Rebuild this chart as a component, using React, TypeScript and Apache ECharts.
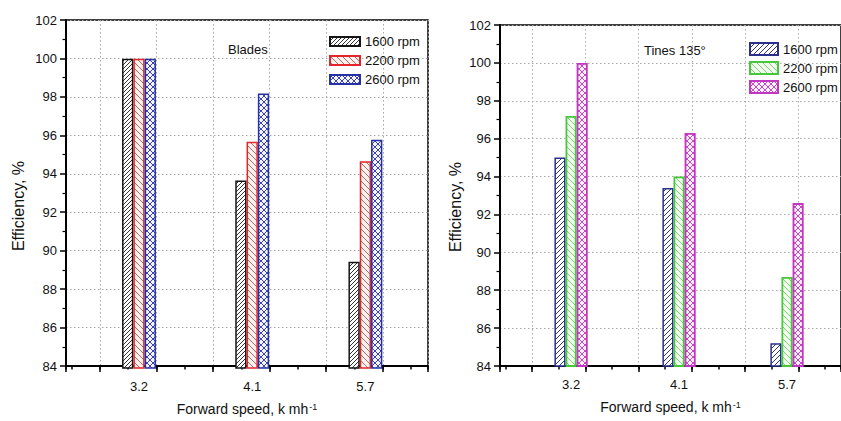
import React, { useEffect, useRef } from 'react';
import * as echarts from 'echarts';

// ---- data ----
const categories = ['3.2', '4.1', '5.7'];
const legendLabels = ['1600 rpm', '2200 rpm', '2600 rpm'];
const blades1600 = [100, 93.7, 89.5];
const blades2200 = [100, 95.7, 94.7];
const blades2600 = [100, 98.2, 95.8];
const tines1600 = [95.0, 93.4, 85.2];
const tines2200 = [97.2, 94.0, 88.7];
const tines2600 = [100.0, 96.3, 92.6];
const yMin = 84;
const yMax = 102;
const yStep = 2;

const FONT = 'Liberation Sans, Arial, Helvetica, sans-serif';

function hatch(kind: 'fwd' | 'back' | 'cross', line: string, bg: string, size: number, lw = 1) {
  const c = document.createElement('canvas');
  c.width = size;
  c.height = size;
  const ctx = c.getContext('2d')!;
  ctx.fillStyle = bg;
  ctx.fillRect(0, 0, size, size);
  ctx.strokeStyle = line;
  ctx.lineWidth = lw;
  ctx.beginPath();
  if (kind !== 'back') {
    ctx.moveTo(0, size); ctx.lineTo(size, 0);
    ctx.moveTo(-size / 2, size / 2); ctx.lineTo(size / 2, -size / 2);
    ctx.moveTo(size / 2, size * 1.5); ctx.lineTo(size * 1.5, size / 2);
  }
  if (kind !== 'fwd') {
    ctx.moveTo(0, 0); ctx.lineTo(size, size);
    ctx.moveTo(-size / 2, size / 2); ctx.lineTo(size / 2, size * 1.5);
    ctx.moveTo(size / 2, -size / 2); ctx.lineTo(size * 1.5, size / 2);
  }
  ctx.stroke();
  return { image: c.toDataURL(), repeat: 'repeat', imageWidth: size, imageHeight: size };
}

export default function App() {
  const ref = useRef<HTMLDivElement>(null);
  useEffect(() => {
    if (!ref.current) return;
    const chart = echarts.init(ref.current, undefined, { renderer: 'svg' });

    const dotted = { color: '#a8a8a8', width: 1, type: [1.5, 2.5] as any };

    const frameX = (grid: number, gap: number) => [
      {
        gridIndex: grid, type: 'value', position: 'bottom', min: -0.6, max: 5.8, splitNumber: 6,
        axisLine: { show: true, onZero: false, lineStyle: { color: '#000', width: 2 } },
        axisTick: { show: true, length: 6, lineStyle: { color: '#000', width: 1.5 } },
        axisLabel: { show: false },
        splitLine: { show: true, lineStyle: dotted },
        name: '{a|Forward speed, k mh}{b|-1}', nameLocation: 'middle', nameGap: gap,
        nameTextStyle: {
          rich: {
            a: { fontSize: 14, color: '#111', fontFamily: FONT },
            b: { fontSize: 9, color: '#111', fontFamily: FONT, verticalAlign: 'top', padding: [0, 0, 0, 1] },
          },
        },
      },
      {
        gridIndex: grid, type: 'value', position: 'bottom', min: -0.6, max: 5.8, splitNumber: 13,
        axisLine: { show: false },
        axisTick: { show: true, length: 3.5, lineStyle: { color: '#000', width: 1.5 } },
        axisLabel: { show: false },
        splitLine: { show: false },
      },
    ];
    const catX = (grid: number, margin: number) => ({
      gridIndex: grid, type: 'category', data: categories, position: 'bottom',
      axisLine: { show: false }, axisTick: { show: false },
      axisLabel: { fontSize: 13, color: '#111', margin, fontFamily: FONT },
      splitLine: { show: false },
    });
    const frameY = (grid: number) => ({
      gridIndex: grid, type: 'value', min: yMin, max: yMax, interval: yStep,
      axisLine: { show: true, onZero: false, lineStyle: { color: '#000', width: 2 } },
      axisTick: { show: true, length: 6, lineStyle: { color: '#000', width: 1.5 } },
      minorTick: { show: true, splitNumber: 2, length: 3.5, lineStyle: { color: '#000', width: 1.2 } },
      axisLabel: { fontSize: 13, color: '#111', margin: 9, fontFamily: FONT },
      splitLine: { show: true, lineStyle: dotted },
    });
    const hiddenY = (grid: number) => ({ gridIndex: grid, type: 'value', min: yMin, max: yMax, show: false });

    const bar = (name: string, data: number[], ax: number, border: string, pattern: any, bw: number, lw: number) => ({
      type: 'bar', name, data, xAxisIndex: ax, yAxisIndex: ax === 2 ? 1 : 3, barWidth: bw, barGap: '0%',
      itemStyle: { color: pattern, borderColor: border, borderWidth: lw },
      emphasis: { disabled: true },
    });

    const nameMap: Record<string, string> = {
      L1600: legendLabels[0], L2200: legendLabels[1], L2600: legendLabels[2],
      R1600: legendLabels[0], R2200: legendLabels[1], R2600: legendLabels[2],
    };

    const option: any = {
      animation: false,
      textStyle: { fontFamily: FONT },
      grid: [
        { left: 66, top: 20, width: 362, height: 348, show: true, borderColor: '#000', borderWidth: 1.5, backgroundColor: 'transparent' },
        { left: 82.4, top: 20, width: 339.6, height: 348 },
        { left: 500, top: 25, width: 349, height: 341, show: true, borderColor: '#000', borderWidth: 1.5, backgroundColor: 'transparent' },
        { left: 517.1, top: 25, width: 327.6, height: 341 },
      ],
      xAxis: [
        ...frameX(0, 36),
        catX(1, 12),
        ...frameX(2, 34),
        catX(3, 12),
      ],
      yAxis: [frameY(0), hiddenY(1), frameY(2), hiddenY(3)],
      legend: [
        {
          data: ['L1600', 'L2200', 'L2600'], orient: 'vertical', left: 329, top: 35, padding: 0,
          itemWidth: 30, itemHeight: 9, itemGap: 6, icon: 'rect', selectedMode: false,
          formatter: (n: string) => nameMap[n], textStyle: { fontSize: 13, color: '#111', fontFamily: FONT },
        },
        {
          data: ['R1600', 'R2200', 'R2600'], orient: 'vertical', left: 749, top: 42, padding: 0,
          itemWidth: 28, itemHeight: 12, itemGap: 5, icon: 'rect', selectedMode: false,
          formatter: (n: string) => nameMap[n], textStyle: { fontSize: 13, color: '#111', fontFamily: FONT },
        },
      ],
      graphic: [
        { type: 'text', x: 228, y: 49, style: { text: 'Blades', fontSize: 13, fill: '#111', font: `13px ${FONT}`, verticalAlign: 'middle' } },
        { type: 'text', x: 644, y: 50, style: { text: 'Tines 135°', fontSize: 13, fill: '#111', font: `13px ${FONT}`, verticalAlign: 'middle' } },
        { type: 'text', x: 18, y: 206, rotation: Math.PI / 2, style: { text: 'Efficiency, %', font: `16px ${FONT}`, fill: '#111', align: 'center', verticalAlign: 'middle' } },
        { type: 'text', x: 455.5, y: 207, rotation: Math.PI / 2, style: { text: 'Efficiency, %', font: `16px ${FONT}`, fill: '#111', align: 'center', verticalAlign: 'middle' } },
      ],
      series: [
        bar('L1600', blades1600, 2, '#151515', hatch('fwd', '#333', '#ffffff', 4), 11.3, 1.5),
        bar('L2200', blades2200, 2, '#e3242b', hatch('back', '#b86a5a', '#fdf1ef', 6), 11.3, 1.5),
        bar('L2600', blades2600, 2, '#2632a4', hatch('cross', '#3944b2', '#f4f4fc', 6), 11.3, 1.5),
        bar('R1600', tines1600, 5, '#2b2f8c', hatch('fwd', '#2f3390', '#ffffff', 5), 11.1, 1.5),
        bar('R2200', tines2200, 5, '#45c93a', hatch('back', '#7fd474', '#f3fbf1', 6), 11.1, 1.8),
        bar('R2600', tines2600, 5, '#c236c2', hatch('cross', '#c449c4', '#fcf0fc', 6), 11.1, 1.8),
      ],
    };
    chart.setOption(option);
    return () => chart.dispose();
  }, []);
  return <div ref={ref} style={{ position: 'absolute', left: 0, top: 0, width: 841, height: 421, background: '#fff' }} />;
}
